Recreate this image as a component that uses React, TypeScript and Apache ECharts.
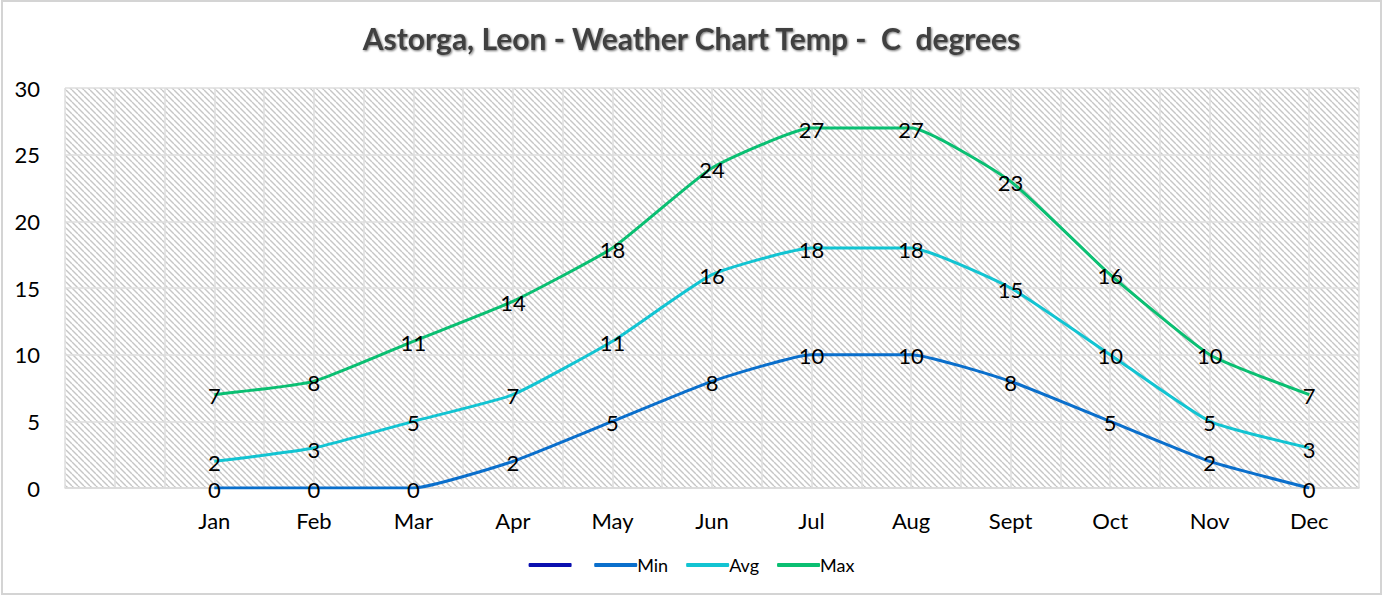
import React, { useEffect, useRef } from "react";
import * as echarts from "echarts";

const categories = ["", "Jan", "Feb", "Mar", "Apr", "May", "Jun", "Jul", "Aug", "Sept", "Oct", "Nov", "Dec"];
const minValues = [null, 0, 0, 0, 2, 5, 8, 10, 10, 8, 5, 2, 0];
const avgValues = [null, 2, 3, 5, 7, 11, 16, 18, 18, 15, 10, 5, 3];
const maxValues = [null, 7, 8, 11, 14, 18, 24, 27, 27, 23, 16, 10, 7];
const blankValues = [null, null, null, null, null, null, null, null, null, null, null, null, null];
const gridCats = Array.from({ length: 26 }, (_, i) => String(i));

const FONT = "Lato, 'Open Sans', sans-serif";

function makeHatch(): string {
  const c = document.createElement("canvas");
  const s = 6;
  c.width = s;
  c.height = s;
  const ctx = c.getContext("2d")!;
  ctx.fillStyle = "#ffffff";
  ctx.fillRect(0, 0, s, s);
  ctx.strokeStyle = "#c6c6c6";
  ctx.lineWidth = 1.4;
  for (const x0 of [-s, 0, s]) {
    ctx.beginPath();
    ctx.moveTo(x0, 0);
    ctx.lineTo(x0 + s, s);
    ctx.stroke();
  }
  return c.toDataURL();
}

export default function App() {
  const ref = useRef<HTMLDivElement>(null);
  useEffect(() => {
    document.body.style.margin = "0";
    const chart = echarts.init(ref.current!, null, { renderer: "svg" });
    const hatch = makeHatch();
    const label = {
      show: true,
      position: "top",
      distance: 0,
      offset: [0, 12],
      color: "#000",
      fontSize: 22,
      fontFamily: FONT,
    };
    const lineSeries = (name: string, data: any[], color: string) => ({
      name,
      type: "line",
      data,
      xAxisIndex: 0,
      yAxisIndex: 0,
      smooth: 0.15,
      showSymbol: true,
      symbol: "circle",
      symbolSize: 0,
      lineStyle: { width: 3, color },
      itemStyle: { color },
      label,
      z: 3,
    });
    chart.setOption({
      animation: false,
      title: {
        text: "Astorga, Leon - Weather Chart Temp -  C  degrees",
        left: "center",
        top: 18,
        textStyle: {
          fontFamily: FONT,
          fontSize: 30,
          fontWeight: "bold",
          color: "#404040",
          textShadowColor: "rgba(0,0,0,0.55)",
          textShadowBlur: 2,
          textShadowOffsetX: 1,
          textShadowOffsetY: 1,
        },
      },
      legend: {
        bottom: 18,
        left: "center",
        itemWidth: 43,
        itemHeight: 4,
        itemGap: 18,
        icon: "roundRect",
        textStyle: { fontFamily: FONT, fontSize: 18, color: "#000", padding: [0, 0, 0, -5] },
        data: [" ", "Min", "Avg", "Max"],
      },
      grid: {
        left: 65,
        right: 24,
        top: 88,
        bottom: 109,
        show: true,
        borderWidth: 0,
        backgroundColor: { image: hatch, repeat: "repeat" },
      },
      xAxis: [
        {
          type: "category",
          data: categories,
          boundaryGap: true,
          axisLine: { show: true, lineStyle: { color: "#d9d9d9", width: 1.5 } },
          axisTick: { show: false },
          splitLine: { show: false },
          axisLabel: { color: "#000", fontSize: 22, fontFamily: FONT, margin: 21, interval: 0 },
        },
        {
          type: "category",
          data: gridCats,
          boundaryGap: true,
          position: "bottom",
          axisLine: { show: false },
          axisTick: { show: false },
          axisLabel: { show: false },
          splitLine: { show: true, interval: 0, lineStyle: { color: "#dedede", width: 1.5 } },
        },
      ],
      yAxis: {
        type: "value",
        min: 0,
        max: 30,
        interval: 5,
        axisLine: { show: false },
        axisTick: { show: false },
        axisLabel: { color: "#000", fontSize: 22, fontFamily: FONT, margin: 25 },
        splitLine: { show: true, lineStyle: { color: "#dedede", width: 1.5 } },
      },
      graphic: [
        {
          type: "rect",
          shape: { x: 2, y: 1, width: 1379, height: 593 },
          style: { fill: "none", stroke: "#d4d4d4", lineWidth: 2 },
          silent: true,
        },
      ],
      series: [
        lineSeries(" ", blankValues, "#0a0fb0"),
        lineSeries("Min", minValues, "#0a6fcc"),
        lineSeries("Avg", avgValues, "#12c4d2"),
        lineSeries("Max", maxValues, "#0abf72"),
      ],
    });
    return () => chart.dispose();
  }, []);
  return <div ref={ref} style={{ width: 1383, height: 597 }} />;
}
